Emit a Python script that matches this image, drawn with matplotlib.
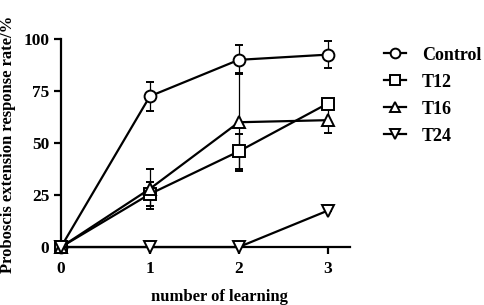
import numpy as np
import matplotlib.pyplot as plt
from matplotlib.lines import Line2D

plt.rcParams['font.family'] = ['Liberation Serif', 'DejaVu Serif']
plt.rcParams['font.weight'] = 'bold'

# data
learning = [0, 1, 2, 3]
series = ['Control', 'T12', 'T16', 'T24']
markers = ['o', 's', '^', 'v']
values = {
    'Control': [0, 72.5, 90, 92.5],
    'T12': [0, 25.5, 46, 69],
    'T16': [0, 28, 60, 61],
    'T24': [0, 0, 0, 17.5],
}
errors = {
    'Control': [0, 7, 7, 6.5],
    'T12': [0, 6, 8.5, 0],
    'T16': [0, 9.5, 23.5, 6],
    'T24': [0, 0, 0, 0],
}

fig = plt.figure(figsize=(4.84, 3.05), dpi=100)
ax = fig.add_axes([0.126, 0.19, 0.597, 0.682])

handles = []
for name, m in zip(series, markers):
    ax.errorbar(learning, values[name], yerr=errors[name], color='black',
                ecolor='black', elinewidth=0.9, capsize=3, capthick=0.9,
                lw=1.6, marker=m, markersize=8.5, markerfacecolor='white',
                markeredgecolor='black', markeredgewidth=1.4,
                clip_on=False, zorder=3)
    handles.append(Line2D([], [], color='black', lw=1.6, marker=m,
                          markersize=7, markerfacecolor='white',
                          markeredgecolor='black', markeredgewidth=1.4,
                          label=name))

ax.set_xlim(0, 3.25)
ax.set_ylim(0, 100)
ax.set_xticks(learning)
ax.set_yticks([0, 25, 50, 75, 100])
ax.spines['top'].set_visible(False)
ax.spines['right'].set_visible(False)
for s in ['left', 'bottom']:
    ax.spines[s].set_linewidth(1.6)
ax.tick_params(width=1.6, length=5, labelsize=12.5)
ax.tick_params(axis='x', pad=5)
for lab in ax.get_xticklabels() + ax.get_yticklabels():
    lab.set_fontweight('bold')

ax.set_xlabel('number of learning', fontsize=12, fontweight='bold')
ax.xaxis.set_label_coords(0.55, -0.2)
ax.set_ylabel('Proboscis extension response rate/%', fontsize=12,
              fontweight='bold')
ax.yaxis.set_label_coords(-0.155, 0.495)

fig.legend(handles=handles, loc='upper left', bbox_to_anchor=(0.76, 0.9),
           frameon=False, handlelength=1.2, handletextpad=0.9,
           labelspacing=0.55, prop={'weight': 'bold', 'size': 13})

fig.savefig('out.png', dpi=100)
